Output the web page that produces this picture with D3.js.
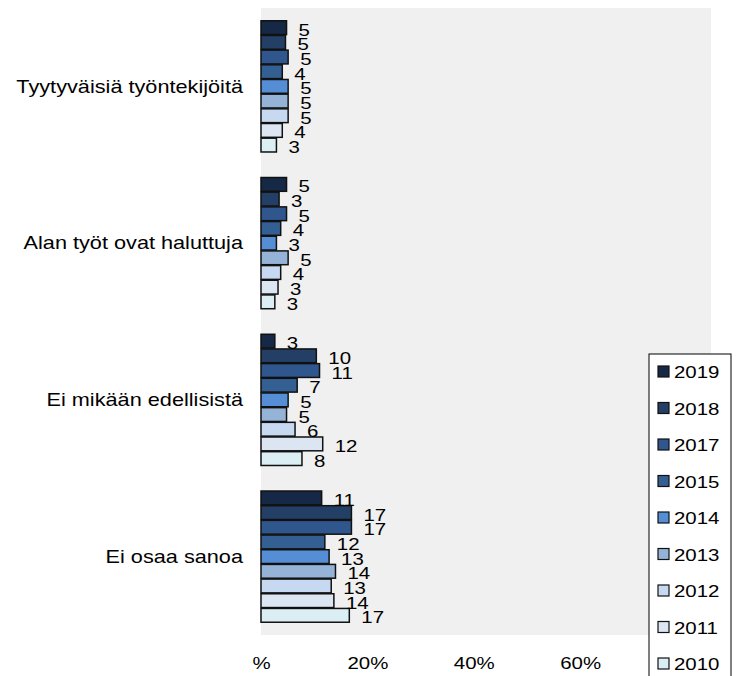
<!DOCTYPE html>
<html>
<head>
<meta charset="utf-8">
<script src="https://cdn.jsdelivr.net/npm/d3@7"></script>
<style>
  html, body { margin: 0; padding: 0; background: #ffffff; }
  svg { display: block; }
  text { font-family: "Liberation Sans", Arial, sans-serif; fill: #000; }
</style>
</head>
<body>
<svg id="chart" width="736" height="676"></svg>
<script>
// ---- data ----
const categories = ["Tyytyväisiä työntekijöitä", "Alan työt ovat haluttuja", "Ei mikään edellisistä", "Ei osaa sanoa"];
const years = ["2019", "2018", "2017", "2015", "2014", "2013", "2012", "2011", "2010"];
const values2019 = [4.8, 4.8, 2.6, 11.4];
const values2018 = [4.6, 3.4, 10.4, 17.0];
const values2017 = [5.1, 4.8, 11.0, 17.0];
const values2015 = [4.0, 3.7, 6.8, 12.0];
const values2014 = [5.1, 2.9, 5.1, 12.8];
const values2013 = [5.1, 5.1, 4.8, 14.0];
const values2012 = [5.1, 3.7, 6.4, 13.2];
const values2011 = [4.0, 3.2, 11.6, 13.7];
const values2010 = [2.9, 2.6, 7.7, 16.6];
const seriesValues = [values2019, values2018, values2017, values2015, values2014, values2013, values2012, values2011, values2010];
const colors = ["#152846", "#243f65", "#30568e", "#345f93", "#558ed5", "#95b3d7", "#c6d9f1", "#dce6f2", "#dbeef4"];
const xTickValues = [0, 20, 40, 60];
const xTickLabels = ["%", "20%", "40%", "60%"];

// ---- layout ----
const SX = 1.24;          // horizontal text stretch seen in the reference
const FS = 16.5;
const FS_CAT = 17.5;
const svg = d3.select("#chart");
const plot = { left: 261, right: 711, top: 8, bottom: 635 };

const x = d3.scaleLinear().domain([0, 100]).range([plot.left, plot.left + 532]);
const y0 = d3.scaleBand().domain(categories).range([plot.top, plot.bottom]).padding(0);
const y1 = d3.scaleBand().domain(years).range([0, y0.bandwidth()]).paddingOuter(0.87).paddingInner(0.06);
const color = d3.scaleOrdinal().domain(years).range(colors);

// background
svg.append("rect")
  .attr("x", plot.left).attr("y", plot.top)
  .attr("width", plot.right - plot.left).attr("height", plot.bottom - plot.top)
  .attr("fill", "#f0f0f0");

// rows
const rows = [];
categories.forEach((c, ci) => {
  years.forEach((yr, yi) => {
    rows.push({ cat: c, year: yr, value: seriesValues[yi][ci] });
  });
});

const g = svg.append("g");
g.selectAll("rect.bar").data(rows).join("rect")
  .attr("class", "bar")
  .attr("x", x(0))
  .attr("y", d => y0(d.cat) + y1(d.year))
  .attr("width", d => x(d.value) - x(0))
  .attr("height", y1.bandwidth())
  .attr("fill", d => color(d.year))
  .attr("stroke", "#111")
  .attr("stroke-width", 1.5);

// value labels
g.selectAll("text.lbl").data(rows).join("text")
  .attr("class", "lbl")
  .attr("transform", d => `translate(${x(d.value) + 12},${y0(d.cat) + y1(d.year) + y1.bandwidth() / 2 + 8}) scale(${SX},1)`)
  .style("font-size", FS + "px")
  .text(d => d3.format(".0f")(d.value));

// x axis
const xAxis = svg.append("g")
  .attr("transform", `translate(0,${plot.bottom})`)
  .call(d3.axisBottom(x).tickValues(xTickValues).tickSize(0).tickPadding(0)
    .tickFormat((d, i) => xTickLabels[i]));
xAxis.select(".domain").remove();
xAxis.selectAll("text")
  .attr("y", 34).attr("dy", 0)
  .attr("transform", `scale(${SX},1)`)
  .style("font-size", FS + "px").style("font-family", "Liberation Sans, Arial, sans-serif").attr("fill", "#000");

// category axis
const yAxis = svg.append("g")
  .attr("transform", `translate(${plot.left},0)`)
  .call(d3.axisLeft(y0).tickSize(0).tickPadding(0));
yAxis.select(".domain").remove();
yAxis.selectAll("text")
  .attr("x", -18 / SX).attr("dy", "0.36em")
  .attr("transform", `scale(${SX},1)`)
  .style("font-size", FS_CAT + "px").style("font-family", "Liberation Sans, Arial, sans-serif").attr("fill", "#000");

// legend
const legend = svg.append("g");
legend.append("rect")
  .attr("x", 649).attr("y", 354).attr("width", 82).attr("height", 340)
  .attr("fill", "#fff").attr("stroke", "#000").attr("stroke-width", 1);
const ly = d3.scalePoint().domain(years).range([372, 664]);
const items = legend.selectAll("g.item").data(years).join("g").attr("class", "item");
items.append("rect")
  .attr("x", 658).attr("y", d => ly(d) - 6)
  .attr("width", 11).attr("height", 11)
  .attr("fill", d => color(d)).attr("stroke", "#111").attr("stroke-width", 1.2);
items.append("text")
  .attr("transform", d => `translate(674,${ly(d) + 6}) scale(${SX},1)`)
  .style("font-size", FS + "px")
  .text(d => d);
</script>
</body>
</html>
